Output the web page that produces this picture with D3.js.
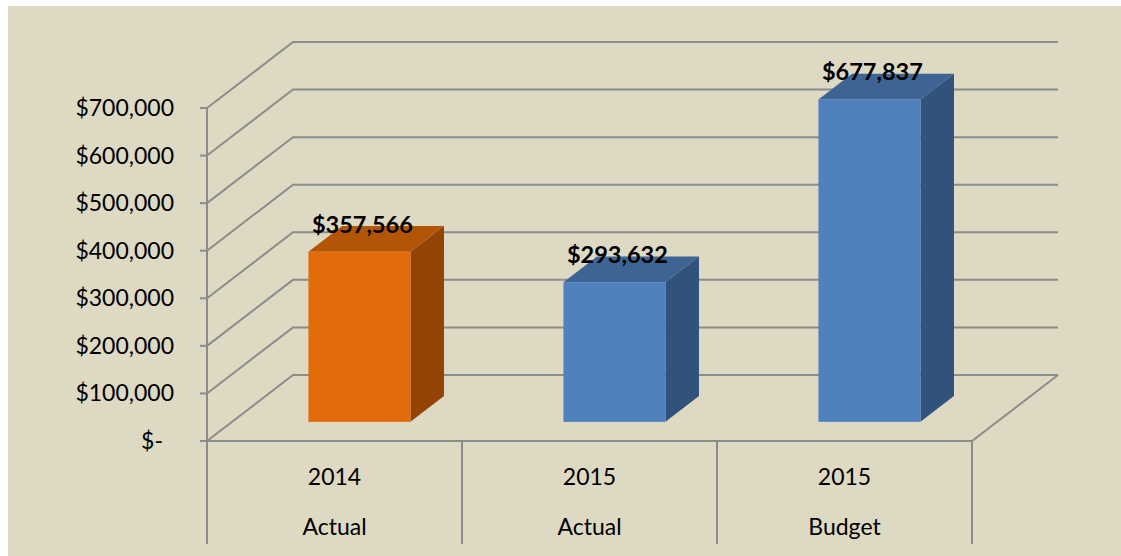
<!DOCTYPE html>
<html>
<head>
<meta charset="utf-8">
<script src="https://cdn.jsdelivr.net/npm/d3@7"></script>
<style>
  html, body { margin: 0; padding: 0; background: #ffffff; }
  svg { display: block; }
</style>
</head>
<body>
<svg id="chart" width="1121" height="556"></svg>
<script>
const yearLabels = ["2014", "2015", "2015"];
const typeLabels = ["Actual", "Actual", "Budget"];
const values = [357566, 293632, 677837];
const valueLabels = ["$357,566", "$293,632", "$677,837"];
const tickValues = [0, 100000, 200000, 300000, 400000, 500000, 600000, 700000];
const tickLabels = ["$-", "$100,000", "$200,000", "$300,000", "$400,000", "$500,000", "$600,000", "$700,000"];
const barColors = [
  { front: "#e36c0a", side: "#934405", top: "#b35507" },
  { front: "#4f81bd", side: "#31527a", top: "#3d6492" },
  { front: "#4f81bd", side: "#31527a", top: "#3d6492" }
];

const svg = d3.select("#chart");
const W = 1121, H = 556;

// background panel
svg.append("rect").attr("x", 8).attr("y", 6).attr("width", W - 8).attr("height", H - 6).attr("fill", "#ddd9c3");

// geometry
const left = 207, right = 972;
const depthX = 86, depthY = -66;            // full depth of the floor
const y = d3.scaleLinear().domain([0, 700000]).range([441, 108]);
const cats = d3.range(values.length);
const x = d3.scaleBand().domain(cats).range([left, right]).paddingInner(0).paddingOuter(0);
const barFrac = 0.40;
const f1 = 0.29, f2 = 0.68;                   // bar front/back depth fractions

const gridColor = "#8c8c8c";
const g = svg.append("g");

// wall gridlines (left wall diagonal + back wall horizontal)
tickValues.forEach(v => {
  const yy = y(v);
  g.append("path")
    .attr("d", `M${left},${yy} L${left + depthX},${yy + depthY} L${right + depthX},${yy + depthY}`)
    .attr("fill", "none").attr("stroke", gridColor).attr("stroke-width", 2);
});

// floor outline
const y0 = y(0);
g.append("path")
  .attr("d", `M${left},${y0} L${right},${y0} L${right + depthX},${y0 + depthY}`)
  .attr("fill", "none").attr("stroke", gridColor).attr("stroke-width", 2);

// vertical axis line and ticks
g.append("line").attr("x1", left).attr("x2", left).attr("y1", y(700000)).attr("y2", y0)
  .attr("stroke", gridColor).attr("stroke-width", 2);
tickValues.forEach(v => {
  g.append("line").attr("x1", left - 7).attr("x2", left).attr("y1", y(v)).attr("y2", y(v))
    .attr("stroke", gridColor).attr("stroke-width", 2);
});

// category dividers
const dividers = cats.map(i => x(i)).concat([right]);
dividers.forEach(xx => {
  g.append("line").attr("x1", xx).attr("x2", xx).attr("y1", y0).attr("y2", 544)
    .attr("stroke", gridColor).attr("stroke-width", 2);
});

// bars
const fdx = f1 * depthX, fdy = f1 * depthY;
const bdx = (f2 - f1) * depthX, bdy = (f2 - f1) * depthY;
const bw = x.bandwidth() * barFrac;
const bars = svg.append("g");
values.forEach((v, i) => {
  const x0 = x(i) + fdx + (x.bandwidth() - bw) / 2;
  const x1 = x0 + bw;
  const yb = y(0) + fdy;
  const yt = y(v) + fdy;
  const c = barColors[i];
  bars.append("polygon")
    .attr("points", [[x1, yt], [x1 + bdx, yt + bdy], [x1 + bdx, yb + bdy], [x1, yb]].map(p => p.join(",")).join(" "))
    .attr("fill", c.side);
  bars.append("polygon")
    .attr("points", [[x0, yt], [x0 + bdx, yt + bdy], [x1 + bdx, yt + bdy], [x1, yt]].map(p => p.join(",")).join(" "))
    .attr("fill", c.top);
  bars.append("rect").attr("x", x0).attr("y", yt).attr("width", bw).attr("height", yb - yt)
    .attr("fill", c.front);
  // data label
  bars.append("text")
    .attr("x", (x0 + x1) / 2 + 3).attr("y", yt - 19)
    .attr("text-anchor", "middle")
    .attr("font-family", "Lato, 'Open Sans', sans-serif")
    .attr("font-weight", "bold").attr("font-size", 23.5)
    .attr("fill", "#000")
    .text(valueLabels[i]);
});

// y tick labels
const font = "Lato, 'Open Sans', sans-serif";
tickValues.forEach((v, i) => {
  svg.append("text")
    .attr("x", v === 0 ? 163 : 174).attr("y", y(v))
    .attr("dy", "0.35em")
    .attr("text-anchor", "end")
    .attr("font-family", font).attr("font-size", 23)
    .attr("fill", "#000")
    .text(tickLabels[i]);
});

// category labels
cats.forEach(i => {
  const cx = x(i) + x.bandwidth() / 2;
  svg.append("text").attr("x", cx).attr("y", 477).attr("dy", "0.35em")
    .attr("text-anchor", "middle").attr("font-family", font).attr("font-size", 23)
    .attr("fill", "#000").text(yearLabels[i]);
  svg.append("text").attr("x", cx).attr("y", 527).attr("dy", "0.35em")
    .attr("text-anchor", "middle").attr("font-family", font).attr("font-size", 23)
    .attr("fill", "#000").text(typeLabels[i]);
});
</script>
</body>
</html>
